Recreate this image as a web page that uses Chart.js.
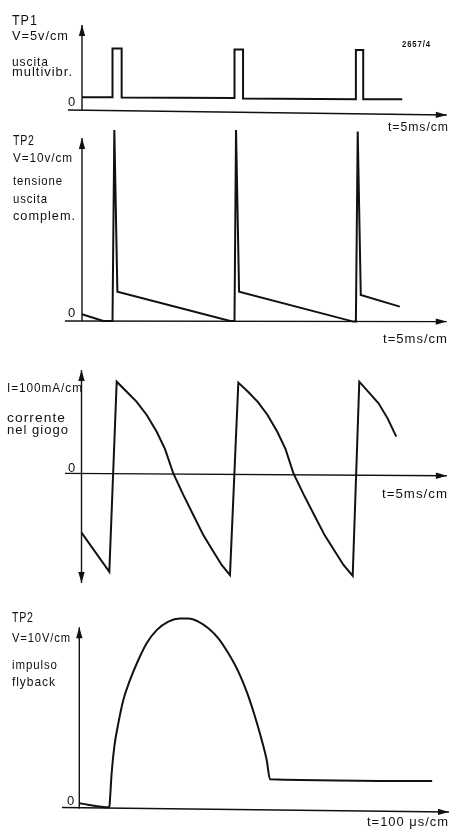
<!DOCTYPE html>
<html>
<head>
<meta charset="utf-8">
<script src="https://cdn.jsdelivr.net/npm/chart.js@4"></script>
<style>
  html, body { margin: 0; padding: 0; background: #fff; }
  #wrap { position: relative; width: 454px; height: 831px; overflow: hidden; }
  canvas { position: absolute; left: 0; }
  .lbl { position: absolute; white-space: nowrap; color: #111; line-height: 1;
         font-family: "Liberation Sans", Arial, sans-serif;
         font-size: 13px; letter-spacing: 1px; transform-origin: 0 0; }
</style>
</head>
<body>
<div id="wrap">
  <canvas id="c1"></canvas>
  <canvas id="c2"></canvas>
  <canvas id="c3"></canvas>
  <canvas id="c4"></canvas>
</div>
<script>
// TP1 - multivibrator output (ms, V)
const tp1Time = [0, 5.0, 5.0, 6.5, 6.5, 25.0, 25.0, 26.4, 26.4, 44.9, 44.9, 46.1, 46.1, 52.5];
const tp1Volt = [0, 0, 8.0, 8.0, -0.05, -0.1, 7.85, 7.85, -0.2, -0.3, 7.75, 7.75, -0.33, -0.33];

// TP2 - complementary output voltage (ms, V)
const tp2Time = [0, 3.5, 5.0, 5.3, 5.8, 24.3, 25.0, 25.25, 25.75, 44.5, 44.9, 45.2, 45.7, 52.1];
const tp2Volt = [2.2, 0, 0, 62.6, 9.6, 0, 0, 62.6, 9.6, -0.2, -0.2, 62.1, 8.5, 4.7];

// yoke current (ms, mA)
const yokeTime = [0, 4.56,
                  5.77, 7.41, 9.05, 10.69, 12.33, 13.69, 15.05, 16.69, 18.33, 19.97, 21.61, 22.98, 24.34,
                  25.71, 27.3, 28.9, 30.5, 32.1, 33.45, 34.75, 36.45, 38.15, 39.85, 41.55, 42.95, 44.46,
                  45.54, 47.1, 48.7, 50.2, 51.6];
const yokeCurrent = [-194, -322,
                     301, 268, 235, 192, 137, 80, 0, -70, -136, -202, -256, -300, -333,
                     298, 268, 235, 192, 137, 80, 0, -70, -136, -202, -256, -300, -336,
                     301, 266, 230, 180, 121];

// TP2 - flyback pulse (us, V)
const flyTime = [0, 98.4, 100.5, 106, 114.8, 127.9, 144.3, 166.1, 193.5, 220.9, 253.7, 291.9, 330.2, 357.5, 390.3,
                 423.1, 455.9, 488.7, 521.5, 548.8, 576.1, 598, 614.4, 625.3, 1157];
const flyVolt = [1.7, 0.4, 2.8, 11.5, 20.3, 27.9, 35.6, 42.1, 48.7, 54.2, 58.5, 61.3, 62.3, 62.3, 61.3,
                 59.1, 55.8, 50.9, 44.9, 38.3, 30.1, 22.5, 15.9, 9.6, 9.0];

// text labels: [text, left, baseline, width, extra css]
const labels = [
  ['TP1', 12, 25, 25, 'font-size:14px'],
  ['V=5v/cm', 12, 40, 56, ''],
  ['uscita', 12, 66, 36, ''],
  ['multivibr.', 12, 76, 60, ''],
  ['0', 68, 106, 0, ''],
  ['2657/4', 402, 48, 28, 'font-size:9px;font-weight:bold'],
  ['t=5ms/cm', 388, 131, 60, ''],
  ['TP2', 13, 145, 21, 'font-size:14px'],
  ['V=10v/cm', 13, 162, 59, ''],
  ['tensione', 13, 185, 49, ''],
  ['uscita', 13, 203, 34, ''],
  ['complem.', 13, 220, 62, ''],
  ['0', 68, 317, 0, ''],
  ['t=5ms/cm', 383, 343, 64, ''],
  ['I=100mA/cm', 7, 392, 75, ''],
  ['corrente', 7, 422, 58, ''],
  ['nel giogo', 7, 434, 61, ''],
  ['0', 68, 472, 0, ''],
  ['t=5ms/cm', 382, 498, 65, ''],
  ['TP2', 12, 622, 21, 'font-size:14px'],
  ['V=10V/cm', 12, 642, 58, ''],
  ['impulso', 12, 669, 45, ''],
  ['flyback', 12, 686, 43, ''],
  ['0', 67, 805, 0, ''],
  ['t=100 μs/cm', 367, 826, 81, '']
];

const wrap = document.getElementById('wrap');
labels.forEach(([text, x, base, w, css]) => {
  const d = document.createElement('div');
  d.className = 'lbl';
  d.textContent = text;
  d.style.cssText = css;
  d.style.left = x + 'px';
  wrap.appendChild(d);
  const size = parseFloat(getComputedStyle(d).fontSize);
  d.style.top = (base - size * 0.86) + 'px';
  if (w) {
    const ls = parseFloat(getComputedStyle(d).letterSpacing) || 0;
    const nat = d.getBoundingClientRect().width - ls;
    d.style.transform = 'scaleX(' + (w / nat) + ')';
  }
});

// draws axis lines with arrow heads in data units
const axesPlugin = {
  id: 'scopeAxes',
  afterDatasetsDraw(chart, args, opts) {
    const ctx = chart.ctx, xs = chart.scales.x, ys = chart.scales.y;
    ctx.save();
    ctx.strokeStyle = '#111';
    ctx.fillStyle = '#111';
    ctx.lineWidth = 1.4;
    (opts.lines || []).forEach(l => {
      const x1 = xs.getPixelForValue(l.from[0]), y1 = ys.getPixelForValue(l.from[1]);
      const x2 = xs.getPixelForValue(l.to[0]), y2 = ys.getPixelForValue(l.to[1]);
      ctx.beginPath();
      ctx.moveTo(x1, y1);
      ctx.lineTo(x2, y2);
      ctx.stroke();
      const head = (px, py, qx, qy) => {
        const a = Math.atan2(py - qy, px - qx);
        const len = 11, w = 3.2;
        ctx.beginPath();
        ctx.moveTo(px, py);
        ctx.lineTo(px - len * Math.cos(a) + w * Math.sin(a), py - len * Math.sin(a) - w * Math.cos(a));
        ctx.lineTo(px - len * Math.cos(a) - w * Math.sin(a), py - len * Math.sin(a) + w * Math.cos(a));
        ctx.closePath();
        ctx.fill();
      };
      if (l.arrowEnd) head(x2, y2, x1, y1);
      if (l.arrowStart) head(x1, y1, x2, y2);
    });
    ctx.restore();
  }
};

// scale limits so that the chart lines up with the page
function makeScope(id, top, height, x0, pxX, y0, pxY, xs, ys, axes, smooth) {
  const cv = document.getElementById(id);
  cv.style.top = top + 'px';
  cv.width = 454;
  cv.height = height;
  cv.style.width = '454px';
  cv.style.height = height + 'px';
  return new Chart(cv, {
    type: 'line',
    data: {
      datasets: [{
        data: xs.map((t, i) => ({ x: t, y: ys[i] })),
        borderColor: '#111',
        borderWidth: 2,
        pointRadius: 0,
        tension: 0,
        cubicInterpolationMode: smooth ? 'monotone' : 'default',
        fill: false,
        clip: false,
        borderJoinStyle: 'miter'
      }]
    },
    options: {
      responsive: false,
      animation: false,
      events: [],
      layout: { padding: 0 },
      scales: {
        x: { type: 'linear', display: false, min: -x0 / pxX, max: (454 - x0) / pxX },
        y: { type: 'linear', display: false, min: -(top + height - y0) / pxY, max: (y0 - top) / pxY }
      },
      plugins: {
        legend: { display: false },
        tooltip: { enabled: false },
        scopeAxes: { lines: axes }
      }
    },
    plugins: [axesPlugin]
  });
}

makeScope('c1', 0, 135, 82, 6.1, 97.3, 6.1, tp1Time, tp1Volt, [
  { from: [-2.3, -2.08], to: [59.8, -2.9], arrowEnd: true },
  { from: [0, -2.08], to: [0, 11.85], arrowEnd: true }
]);
makeScope('c2', 125, 210, 82, 6.1, 321, 3.05, tp2Time, tp2Volt, [
  { from: [-2.8, 0], to: [59.8, -0.2], arrowEnd: true },
  { from: [0, 0], to: [0, 60], arrowEnd: true }
]);
makeScope('c3', 360, 230, 81.5, 6.1, 473.5, 0.305, yokeTime, yokeCurrent, [
  { from: [-2.7, 0.5], to: [59.9, -7.4], arrowEnd: true },
  { from: [0, -359], to: [0, 339], arrowEnd: true, arrowStart: true }
]);
makeScope('c4', 600, 231, 79.3, 0.305, 808.5, 3.05, flyTime, flyVolt, [
  { from: [-56.7, 0.33], to: [1212, -1.15], arrowEnd: true },
  { from: [0, 0], to: [0, 59.4], arrowEnd: true }
], true);
</script>
</body>
</html>
